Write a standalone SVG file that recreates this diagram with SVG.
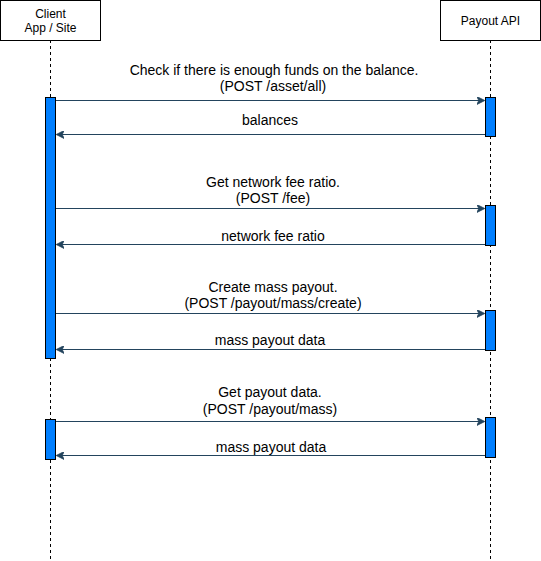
<svg xmlns="http://www.w3.org/2000/svg" width="541" height="561" viewBox="0 0 541 561">
<style>
.box{fill:#fff;stroke:#000;stroke-width:1}
.life{stroke:#000;stroke-width:1;stroke-dasharray:3 3;fill:none}
.act{fill:#007FFF;stroke:#000;stroke-width:1}
.msg{stroke:#23445D;stroke-width:1;fill:none}
text{font-family:"Liberation Sans",Arial,sans-serif;font-size:12px;fill:#000;text-anchor:middle}
.lbl{font-size:14px}
.bg{fill:#fff}
</style>
<defs>
<marker id="ah" viewBox="0 0 10 10" refX="9" refY="5" markerWidth="8" markerHeight="8" markerUnits="userSpaceOnUse" orient="auto">
<path d="M0,0 L10,5 L0,10 L2.5,5 Z" fill="#23445D" stroke="#23445D" stroke-width="1"/>
</marker>
</defs>
<g id="lifelines">
<path class="life" d="M50.5,40 V561"/>
<path class="life" d="M490.5,40 V561"/>
</g>
<g id="client">
<rect class="box" x="0.5" y="0.5" width="100" height="40"/>
<text x="50.5" y="18">Client</text>
<text x="50.5" y="32">App / Site</text>
</g>
<g id="payout-api">
<rect class="box" x="440.5" y="0.5" width="100" height="40"/>
<text x="490.5" y="25">Payout API</text>
</g>
<g id="activations">
<rect class="act" x="45.5" y="97.5" width="10" height="261"/>
<rect class="act" x="45.5" y="419.5" width="10" height="40"/>
<rect class="act" x="485.5" y="97.5" width="10" height="39"/>
<rect class="act" x="485.5" y="205.5" width="10" height="40"/>
<rect class="act" x="485.5" y="310.5" width="10" height="40"/>
<rect class="act" x="485.5" y="417.5" width="10" height="40"/>
</g>
<g id="connectors">
<path class="msg" d="M56,100.5 H484" marker-end="url(#ah)"/>
<path class="msg" d="M485,134.5 H57" marker-end="url(#ah)"/>
<path class="msg" d="M56,208.5 H484" marker-end="url(#ah)"/>
<path class="msg" d="M485,244.5 H57" marker-end="url(#ah)"/>
<path class="msg" d="M56,313.5 H484" marker-end="url(#ah)"/>
<path class="msg" d="M485,349.5 H57" marker-end="url(#ah)"/>
<path class="msg" d="M56,421.5 H484" marker-end="url(#ah)"/>
<path class="msg" d="M485,455.5 H57" marker-end="url(#ah)"/>
</g>
<g id="labels">
<text class="lbl" x="274" y="75">Check if there is enough funds on the balance.</text>
<text class="lbl" x="273" y="91">(POST /asset/all)</text>
<text class="lbl" x="270" y="125">balances</text>
<text class="lbl" x="273" y="187">Get network fee ratio.</text>
<text class="lbl" x="273" y="203">(POST /fee)</text>
<text class="lbl" x="273" y="241">network fee ratio</text>
<text class="lbl" x="273" y="292">Create mass payout.</text>
<text class="lbl" x="273" y="308">(POST /payout/mass/create)</text>
<rect class="bg" x="213" y="333" width="113" height="16"/>
<text class="lbl" x="270" y="345">mass payout data</text>
<text class="lbl" x="270" y="397">Get payout data.</text>
<text class="lbl" x="270" y="414">(POST /payout/mass)</text>
<text class="lbl" x="271" y="452">mass payout data</text>
</g>
</svg>
